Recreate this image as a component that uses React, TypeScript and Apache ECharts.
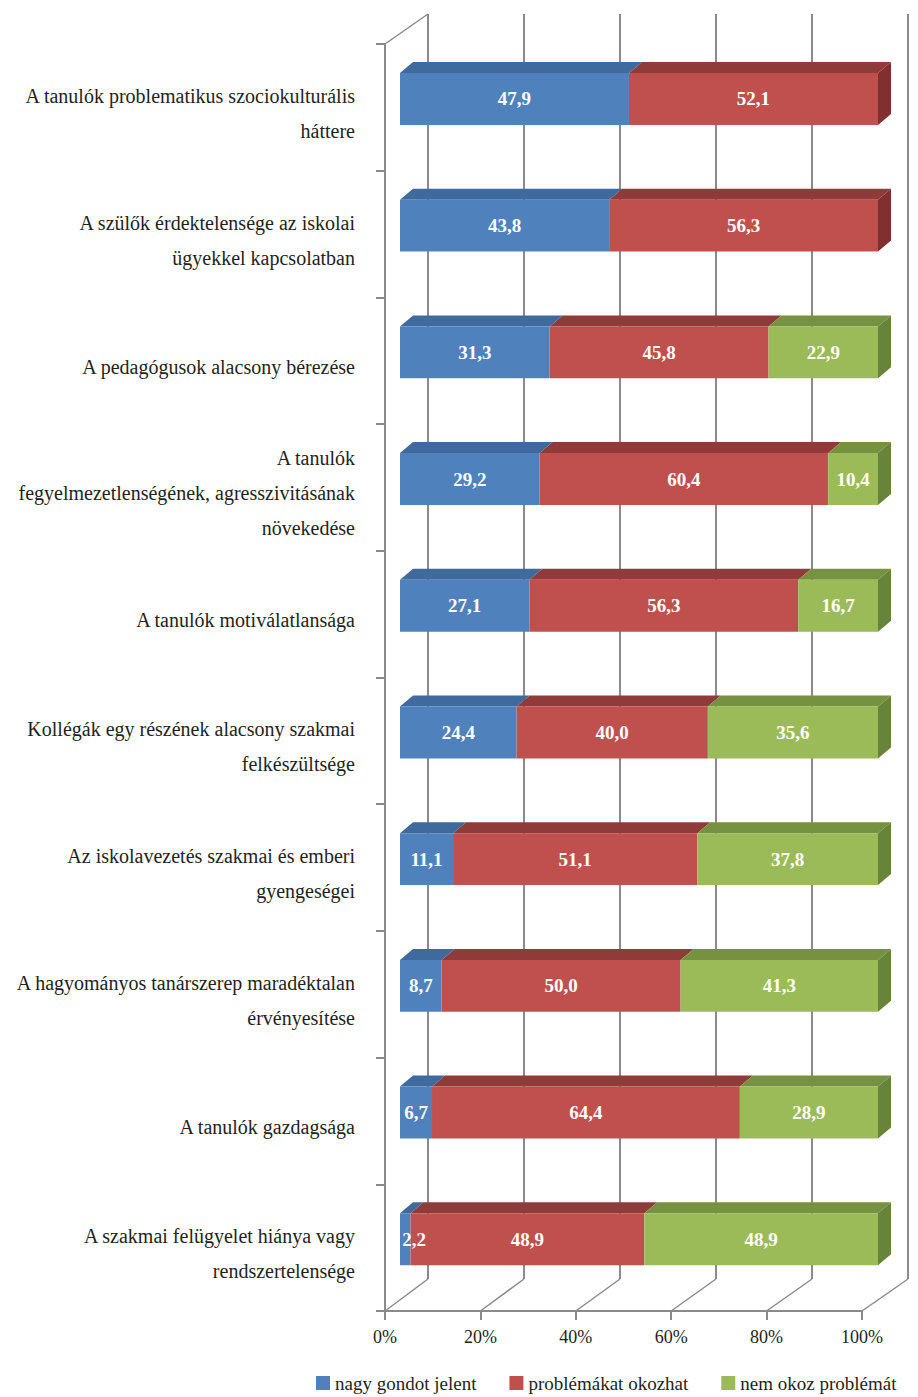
import React, { useEffect, useRef } from "react";
import * as echarts from "echarts";

const categories: string[] = [
  "A tanulók problematikus szociokulturális\nháttere",
  "A szülők érdektelensége az iskolai\nügyekkel kapcsolatban",
  "A pedagógusok alacsony bérezése",
  "A tanulók\nfegyelmezetlenségének, agresszivitásának\nnövekedése",
  "A tanulók motiválatlansága",
  "Kollégák egy részének alacsony szakmai\nfelkészültsége",
  "Az iskolavezetés szakmai és emberi\ngyengeségei",
  "A hagyományos tanárszerep maradéktalan\nérvényesítése",
  "A tanulók gazdagsága",
  "A szakmai felügyelet hiánya vagy\nrendszertelensége",
];

const seriesNames: string[] = ["nagy gondot jelent", "problémákat okozhat", "nem okoz problémát"];
const nagyGondot: number[] = [47.9, 43.8, 31.3, 29.2, 27.1, 24.4, 11.1, 8.7, 6.7, 2.2];
const problemakat: number[] = [52.1, 56.3, 45.8, 60.4, 56.3, 40.0, 51.1, 50.0, 64.4, 48.9];
const nemOkoz: number[] = [0, 0, 22.9, 10.4, 16.7, 35.6, 37.8, 41.3, 28.9, 48.9];
const xTicks: number[] = [0, 20, 40, 60, 80, 100];

const FRONT = ["#4F81BD", "#C0504D", "#9BBB59"];
const TOP = ["#3F6A9E", "#8E3B39", "#76913F"];
const SIDE = ["#3A618F", "#80302F", "#68833A"];
const FONT = '"Liberation Serif", "Times New Roman", serif';
const GRAY = "#8a8a8a";
const TEXT = "#231f20";

export default function App() {
  const ref = useRef<HTMLDivElement>(null);
  useEffect(() => {
    if (!ref.current) return;
    const chart = echarts.init(ref.current, undefined, { renderer: "svg" });
    const all = [nagyGondot, problemakat, nemOkoz];
    const totals = categories.map((_, i) => all.reduce((s, a) => s + a[i], 0));
    const lastIdx = categories.map((_, i) => {
      let l = 0;
      all.forEach((a, s) => { if (a[i] > 0) l = s; });
      return l;
    });
    const barData = all.map((arr, s) =>
      arr.map((v, i) => {
        let before = 0;
        for (let k = 0; k < s; k++) before += all[k][i];
        const start = (before / totals[i]) * 100;
        const end = ((before + v) / totals[i]) * 100;
        return [start, end, i, v, lastIdx[i] === s ? 1 : 0];
      })
    );
    const dx = 13, dy = -11;
    const barSeries = barData.map((data, s) => ({
      type: "custom",
      name: seriesNames[s],
      xAxisIndex: 2,
      yAxisIndex: 2,
      itemStyle: { color: FRONT[s] },
      data,
      renderItem: (params: any, api: any) => {
        const v = api.value(3);
        if (!(v > 0)) return null;
        const p0 = api.coord([api.value(0), api.value(2)]);
        const p1 = api.coord([api.value(1), api.value(2)]);
        const h = api.size([0, 1])[1] * 0.41;
        const x0 = p0[0], x1 = p1[0];
        const yTop = p0[1] - h / 2, yBot = yTop + h;
        const children: any[] = [
          {
            type: "polygon",
            z2: s + 1,
            shape: { points: [[x0, yTop], [x0 + dx, yTop + dy], [x1 + dx, yTop + dy], [x1, yTop]] },
            style: { fill: TOP[s] },
          },
        ];
        if (api.value(4) === 1) {
          children.push({
            type: "polygon",
            z2: s + 1,
            shape: { points: [[x1, yTop], [x1 + dx, yTop + dy], [x1 + dx, yBot + dy], [x1, yBot]] },
            style: { fill: SIDE[s] },
          });
        }
        children.push({
          type: "rect",
          z2: s + 1,
          shape: { x: x0, y: yTop, width: x1 - x0, height: h },
          style: { fill: FRONT[s] },
        });
        children.push({
          type: "text",
          z2: 50,
          style: {
            text: v.toFixed(1).replace(".", ","),
            x: Math.max((x0 + x1) / 2, x0 + 14),
            y: (yTop + yBot) / 2,
            fill: "#ffffff",
            fontSize: 19,
            fontWeight: "bold",
            fontFamily: FONT,
            align: "center",
            verticalAlign: "middle",
          },
        });
        return { type: "group", children };
      },
    }));

    const connectorSeries = {
      type: "custom",
      xAxisIndex: 0,
      yAxisIndex: 0,
      silent: true,
      data: xTicks.map((t) => [t, 0]),
      renderItem: (params: any, api: any) => {
        const cs = params.coordSys;
        const t = api.value(0);
        const x = api.coord([t, 0])[0];
        const yb = cs.y + cs.height;
        const ox = 43 + (t / 100) * 3;
        const children: any[] = [
          { type: "line", shape: { x1: x, y1: yb, x2: x + ox, y2: yb - 32 }, style: { stroke: GRAY, lineWidth: 1.5 } },
        ];
        if (t === 0) {
          children.push({ type: "line", shape: { x1: x, y1: cs.y, x2: x + ox, y2: cs.y - 30 }, style: { stroke: GRAY, lineWidth: 1.5 } });
        }
        return { type: "group", children };
      },
    };

    chart.setOption({
      animation: false,
      backgroundColor: "#ffffff",
      textStyle: { fontFamily: FONT },
      grid: [
        { left: 385, top: 44, width: 477, height: 1267 },
        { left: 428, top: 14, width: 480, height: 1265 },
        { left: 400, top: 35.6, width: 478, height: 1267 },
        { left: 385, top: 50, width: 477, height: 1267 },
      ],
      xAxis: [
        {
          type: "value", gridIndex: 0, min: 0, max: 100, interval: 20,
          axisLine: { show: true, lineStyle: { color: GRAY, width: 2 } },
          axisTick: { show: true, length: 9, lineStyle: { color: GRAY, width: 2 } },
          axisLabel: { formatter: "{value}%", fontSize: 18, fontFamily: FONT, color: TEXT, margin: 17 },
          splitLine: { show: false },
        },
        {
          type: "value", gridIndex: 1, min: 0, max: 100, interval: 20,
          axisLine: { show: false }, axisTick: { show: false }, axisLabel: { show: false },
          splitLine: { show: true, lineStyle: { color: GRAY, width: 2 } },
        },
        { type: "value", gridIndex: 2, min: 0, max: 100, show: false, splitLine: { show: false } },
        { type: "value", gridIndex: 3, min: 0, max: 100, show: false, splitLine: { show: false } },
      ],
      yAxis: [
        {
          type: "category", gridIndex: 0, inverse: true, data: categories,
          axisLine: { show: true, lineStyle: { color: GRAY, width: 2 } },
          axisTick: { show: true, length: 9, lineStyle: { color: GRAY, width: 2 } },
          axisLabel: { show: false },
        },
        { type: "category", gridIndex: 1, inverse: true, data: categories, show: false },
        { type: "category", gridIndex: 2, inverse: true, data: categories, show: false },
        {
          type: "category", gridIndex: 3, inverse: true, data: categories,
          axisLine: { show: false }, axisTick: { show: false }, splitLine: { show: false },
          axisLabel: {
            fontSize: 20, fontFamily: FONT, color: TEXT, lineHeight: 35, align: "right", margin: 30,
          },
        },
      ],
      legend: {
        data: seriesNames,
        left: 316, top: 1373, padding: 0,
        icon: "rect", itemWidth: 14, itemHeight: 14, itemGap: 33,
        textStyle: { fontSize: 19, fontFamily: FONT, color: TEXT, lineHeight: 20 },
      },
      series: [connectorSeries, ...barSeries],
    });
    return () => chart.dispose();
  }, []);
  return (
    <div
      ref={ref}
      style={{ position: "fixed", left: 0, top: 0, width: 918, height: 1397, background: "#fff" }}
    />
  );
}
